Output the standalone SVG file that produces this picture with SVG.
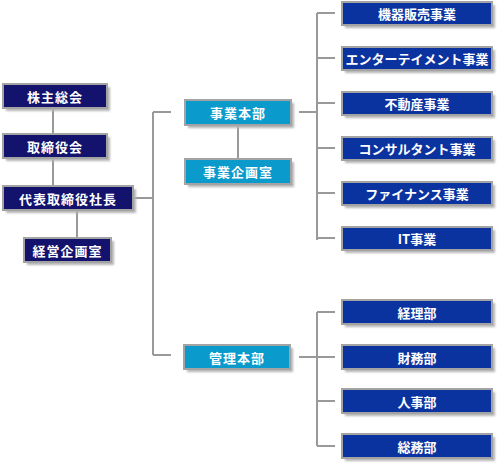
<svg xmlns="http://www.w3.org/2000/svg" width="500" height="466" viewBox="0 0 500 466">
<defs>
<filter id="sh" x="-10%" y="-30%" width="130%" height="180%">
<feGaussianBlur stdDeviation="1.2"/>
</filter>
<style>
.s{fill:#b4b4b4;filter:url(#sh)}
.b{stroke:#a3a3a3;stroke-width:2}
.n{fill:#13136e}
.m{fill:#0b33a0}
.c{fill:#0a9acb}
text{fill:#fff;font-family:"Noto Sans CJK JP","Noto Sans",sans-serif;font-weight:bold;font-size:13px;text-anchor:middle;dominant-baseline:central}
.ls{letter-spacing:1px}
.l{stroke:#999;stroke-width:2;fill:none}
</style>
</defs>
<rect width="500" height="466" fill="#fff"/>
<g id="connectors">
<path class="l" d="M53 108V134M53 158V186M77 210V238M133 198H153M153 112V355M153 112H171M153 355H171M238 125V159M299 112H317M317 13V240M317 13H335M317 58H335M317 103H335M317 148H335M317 193H335M317 238H335M299 357H335M317 312V446M317 312H335M317 401H335M317 446H335"/>
</g>
<g id="n1"><rect class="s" x="6" y="87" width="104" height="24"/><rect class="b n" x="3" y="84" width="104" height="24"/><text class="ls" x="55" y="96">株主総会</text></g>
<g id="n2"><rect class="s" x="6" y="137" width="104" height="24"/><rect class="b n" x="3" y="134" width="104" height="24"/><text class="ls" x="55" y="146">取締役会</text></g>
<g id="n3"><rect class="s" x="6" y="189" width="130" height="24"/><rect class="b n" x="3" y="186" width="130" height="24"/><text class="ls" x="68" y="198">代表取締役社長</text></g>
<g id="n4"><rect class="s" x="27" y="241" width="87" height="24"/><rect class="b n" x="24" y="238" width="87" height="24"/><text class="ls" x="67.5" y="250">経営企画室</text></g>
<g id="n5"><rect class="s" x="188" y="103" width="106" height="25"/><rect class="b c" x="185" y="100" width="106" height="25"/><text class="ls" x="238" y="112.5">事業本部</text></g>
<g id="n6"><rect class="s" x="188" y="162" width="106" height="25"/><rect class="b c" x="185" y="159" width="106" height="25"/><text class="ls" x="238" y="171.5">事業企画室</text></g>
<g id="n7"><rect class="s" x="187" y="348" width="106" height="24"/><rect class="b c" x="184" y="345" width="106" height="24"/><text class="ls" x="237" y="357">管理本部</text></g>
<g id="n8"><rect class="s" x="345" y="5" width="150" height="23"/><rect class="b m" x="342" y="2" width="150" height="23"/><text x="417" y="13.5">機器販売事業</text></g>
<g id="n9"><rect class="s" x="345" y="50" width="150" height="23"/><rect class="b m" x="342" y="47" width="150" height="23"/><text x="417" y="58.5">エンターテイメント事業</text></g>
<g id="n10"><rect class="s" x="345" y="95" width="150" height="23"/><rect class="b m" x="342" y="92" width="150" height="23"/><text x="417" y="103.5">不動産事業</text></g>
<g id="n11"><rect class="s" x="345" y="140" width="150" height="23"/><rect class="b m" x="342" y="137" width="150" height="23"/><text x="417" y="148.5">コンサルタント事業</text></g>
<g id="n12"><rect class="s" x="345" y="185" width="150" height="23"/><rect class="b m" x="342" y="182" width="150" height="23"/><text x="417" y="193.5">ファイナンス事業</text></g>
<g id="n13"><rect class="s" x="345" y="230" width="150" height="23"/><rect class="b m" x="342" y="227" width="150" height="23"/><text x="417" y="238.5">IT事業</text></g>
<g id="n14"><rect class="s" x="345" y="303" width="150" height="24"/><rect class="b m" x="342" y="300" width="150" height="24"/><text x="417" y="312">経理部</text></g>
<g id="n15"><rect class="s" x="345" y="348" width="150" height="24"/><rect class="b m" x="342" y="345" width="150" height="24"/><text x="417" y="357">財務部</text></g>
<g id="n16"><rect class="s" x="345" y="392" width="150" height="24"/><rect class="b m" x="342" y="389" width="150" height="24"/><text x="417" y="401">人事部</text></g>
<g id="n17"><rect class="s" x="345" y="437" width="150" height="24"/><rect class="b m" x="342" y="434" width="150" height="24"/><text x="417" y="446">総務部</text></g>
</svg>
